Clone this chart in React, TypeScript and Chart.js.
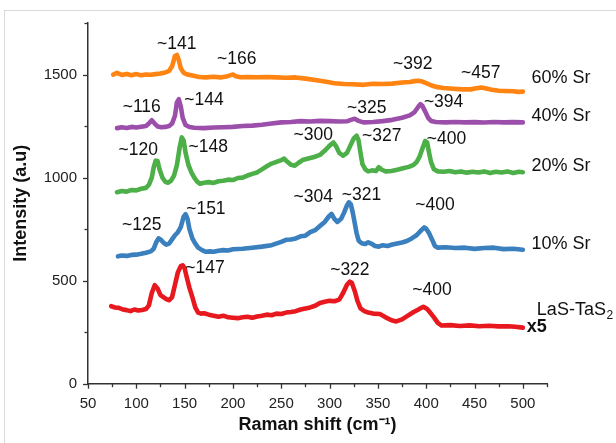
import React, { useEffect, useRef } from "react";
import { Chart, registerables } from "chart.js";
Chart.register(...registerables);

// ---------- data ----------
const sr60X = [76, 80, 85, 90, 95, 100, 105, 110, 115, 120, 125, 130, 134, 137, 140, 142, 144, 146, 149, 153, 158, 165, 172, 180, 187, 193, 197, 200, 203, 208, 215, 225, 235, 245, 255, 265, 275, 285, 295, 305, 315, 325, 335, 345, 355, 365, 375, 383, 388, 392, 396, 400, 405, 410, 418, 428, 438, 446, 452, 457, 462, 468, 475, 482, 490, 496, 500];
const sr60Y = [1500, 1508, 1498, 1503, 1497, 1502, 1496, 1500, 1499, 1502, 1505, 1510, 1518, 1540, 1590, 1595, 1570, 1530, 1508, 1500, 1495, 1488, 1486, 1489, 1486, 1490, 1496, 1500, 1492, 1487, 1488, 1487, 1488, 1486, 1484, 1486, 1480, 1473, 1466, 1458, 1454, 1453, 1450, 1455, 1454, 1456, 1461, 1464, 1468, 1470, 1466, 1458, 1448, 1440, 1435, 1431, 1428, 1428, 1433, 1437, 1432, 1426, 1421, 1420, 1419, 1416, 1417];

const sr40X = [80, 85, 90, 95, 100, 105, 110, 113, 116, 119, 122, 126, 130, 134, 137, 140, 142, 144, 146, 148, 151, 155, 160, 170, 180, 190, 200, 210, 220, 230, 240, 250, 260, 270, 280, 290, 300, 310, 318, 322, 326, 330, 335, 345, 355, 365, 375, 383, 388, 392, 394, 396, 399, 402, 405, 410, 420, 430, 440, 450, 460, 470, 480, 490, 500];
const sr40Y = [1240, 1244, 1241, 1246, 1243, 1247, 1250, 1262, 1278, 1262, 1248, 1244, 1246, 1250, 1262, 1300, 1365, 1380, 1345, 1290, 1255, 1245, 1242, 1240, 1243, 1244, 1246, 1250, 1252, 1256, 1262, 1268, 1270, 1274, 1272, 1275, 1274, 1272, 1273, 1280, 1285, 1275, 1268, 1270, 1274, 1280, 1290, 1302, 1318, 1345, 1356, 1348, 1320, 1290, 1275, 1270, 1268, 1270, 1268, 1269, 1267, 1270, 1268, 1269, 1268];

const sr20X = [80, 85, 90, 95, 100, 105, 110, 113, 116, 118, 120, 122, 124, 127, 130, 133, 136, 139, 142, 145, 147, 149, 151, 154, 157, 160, 163, 166, 170, 175, 180, 185, 190, 195, 200, 205, 210, 215, 220, 225, 230, 235, 240, 245, 250, 253, 256, 260, 264, 268, 272, 276, 284, 290, 296, 300, 304, 307, 310, 314, 318, 322, 325, 328, 330, 332, 334, 337, 340, 344, 348, 351, 354, 358, 364, 370, 376, 382, 387, 390, 393, 396, 399, 401, 403, 405, 408, 412, 418, 424, 430, 436, 442, 448, 454, 460, 466, 472, 478, 484, 490, 496, 500];
const sr20Y = [929, 935, 932, 940, 938, 946, 950, 965, 1000, 1050, 1082, 1080, 1040, 1000, 980, 975, 985, 1010, 1060, 1150, 1195, 1180, 1120, 1060, 1025, 1000, 980, 970, 975, 978, 974, 982, 985, 990, 988, 998, 1000, 1010, 1018, 1025, 1040, 1055, 1068, 1076, 1085, 1092, 1078, 1062, 1058, 1072, 1085, 1090, 1100, 1110, 1135, 1155, 1170, 1150, 1120, 1106, 1120, 1160, 1190, 1203, 1180, 1120, 1065, 1040, 1030, 1035, 1032, 1050, 1038, 1030, 1032, 1038, 1045, 1052, 1062, 1075, 1100, 1140, 1178, 1170, 1120, 1075, 1040, 1030, 1028, 1032, 1026, 1030, 1024, 1028, 1025, 1030, 1022, 1028, 1025, 1030, 1022, 1028, 1026];

const sr10X = [81, 85, 90, 95, 100, 105, 110, 115, 118, 121, 123, 125, 128, 131, 134, 137, 140, 143, 146, 149, 151, 153, 155, 158, 161, 164, 168, 172, 176, 180, 185, 190, 195, 200, 210, 220, 230, 240, 250, 255, 260, 265, 270, 275, 280, 285, 290, 295, 299, 302, 305, 308, 312, 315, 318, 320, 322, 324, 326, 328, 330, 333, 337, 340, 343, 347, 351, 355, 360, 365, 370, 375, 380, 385, 390, 395, 398, 400, 403, 406, 409, 412, 420, 430, 440, 450, 460, 470, 480, 490, 500];
const sr10Y = [618, 622, 620, 625, 626, 630, 635, 642, 655, 690, 705, 700, 685, 675, 680, 700, 720, 735, 760, 810, 822, 800, 750, 705, 680, 660, 648, 640, 642, 640, 645, 648, 646, 652, 655, 660, 665, 672, 688, 698, 700, 705, 715, 718, 735, 745, 765, 785, 810, 824, 800, 785, 800, 830, 865, 880, 870, 830, 780, 730, 695, 682, 678, 686, 680, 668, 665, 672, 668, 675, 680, 685, 692, 705, 720, 745, 758, 752, 730, 700, 668, 660, 662, 658, 660, 654, 658, 660, 653, 655, 650];

const lasX = [74, 78, 82, 86, 90, 94, 98, 102, 106, 110, 113, 116, 119, 122, 125, 128, 131, 134, 137, 140, 143, 146, 148, 150, 152, 155, 158, 161, 164, 167, 170, 175, 180, 185, 190, 195, 200, 205, 210, 215, 220, 225, 230, 235, 240, 245, 250, 255, 260, 265, 270, 275, 280, 285, 290, 295, 300, 305, 310, 314, 318, 321, 323, 326, 329, 332, 336, 340, 345, 352, 358, 364, 369, 375, 381, 387, 391, 394, 397, 401, 404, 408, 412, 416, 425, 435, 445, 455, 465, 475, 485, 492, 500];
const lasY = [376, 370, 368, 360, 357, 352, 360, 355, 358, 362, 380, 440, 478, 462, 430, 420, 410, 405, 420, 480, 540, 570, 574, 560, 520, 465, 420, 370, 345, 340, 342, 335, 330, 325, 330, 322, 320, 318, 322, 325, 320, 326, 330, 335, 332, 340, 338, 345, 348, 352, 360, 365, 370, 378, 392, 398, 402, 400, 408, 440, 480, 495, 490, 450, 400, 365, 352, 345, 340, 338, 322, 308, 302, 312, 330, 348, 358, 366, 373, 362, 345, 322, 295, 282, 284, 280, 283, 279, 281, 278, 279, 276, 272];

const seriesNames = ["60% Sr", "40% Sr", "20% Sr", "10% Sr", "LaS-TaS2"];
const seriesColors = ["#ff8412", "#9b4fab", "#4caf48", "#3a7fbe", "#e8191e"];
const seriesXs = [sr60X, sr40X, sr20X, sr10X, lasX];
const seriesYs = [sr60Y, sr40Y, sr20Y, sr10Y, lasY];
const seriesLabelX = [509, 509, 509, 509, 514.5];
const seriesLabelY = [1485, 1300, 1058, 679, 357];
const scaleNoteText = "x5";
const scaleNoteX = 504;
const scaleNoteY = 276;

const peakLabels = ["~141", "~166", "~392", "~457", "~116", "~144", "~325", "~394", "~120", "~148", "~300", "~327", "~400", "~125", "~151", "~304", "~321", "~400", "~147", "~322", "~400"];
const peakLabelX = [141.8, 204, 386, 456.5, 105.6, 170, 338.5, 418, 102, 174.5, 283, 354, 421, 105.6, 172, 283, 333, 409, 171, 321, 406];
const peakLabelY = [1647, 1574, 1550, 1505, 1343, 1376, 1335, 1364, 1131, 1147, 1208, 1203, 1187, 768, 849, 903, 913, 865, 560, 550, 454];

const xMin = 50, xMax = 525, xStep = 25, xLabelStep = 50, xLabelMax = 500;
const yMin = 0, yMax = 1750, yStep = 250, yLabelStep = 500;

const FONT = "'Liberation Sans', Arial, sans-serif";

const decorPlugin = {
  id: "decor",
  afterDraw(chart: any) {
    const ctx = chart.ctx;
    const xs = chart.scales.x;
    const ys = chart.scales.y;
    ctx.save();
    ctx.strokeStyle = "#333";
    ctx.lineWidth = 1.3;
    for (const t of xs.ticks) {
      const px = Math.round(xs.getPixelForValue(t.value)) + 0.5;
      const major = t.value % xLabelStep === 0;
      ctx.beginPath();
      ctx.moveTo(px, xs.top);
      ctx.lineTo(px, xs.top + (major ? 5 : 3.5));
      ctx.stroke();
    }
    for (const t of ys.ticks) {
      const py = Math.round(ys.getPixelForValue(t.value)) + 0.5;
      const major = t.value % yLabelStep === 0;
      ctx.beginPath();
      ctx.moveTo(ys.right, py);
      ctx.lineTo(ys.right - (major ? 5 : 3.5), py);
      ctx.stroke();
    }
    ctx.fillStyle = "#111";
    ctx.font = `17.5px ${FONT}`;
    ctx.textAlign = "center";
    ctx.textBaseline = "middle";
    peakLabels.forEach((s, i) => {
      ctx.fillText(s, xs.getPixelForValue(peakLabelX[i]), ys.getPixelForValue(peakLabelY[i]));
    });
    ctx.textAlign = "left";
    seriesNames.forEach((s, i) => {
      const px = xs.getPixelForValue(seriesLabelX[i]);
      const py = ys.getPixelForValue(seriesLabelY[i]);
      ctx.font = `18px ${FONT}`;
      if (s.endsWith("2") && s.startsWith("LaS")) {
        const main = s.slice(0, -1);
        ctx.fillText(main, px, py);
        const w = ctx.measureText(main).width;
        ctx.font = `12px ${FONT}`;
        ctx.fillText("2", px + w + 0.5, py + 6);
      } else {
        ctx.fillText(s, px, py);
      }
    });
    ctx.font = `bold 18px ${FONT}`;
    ctx.fillText(scaleNoteText, xs.getPixelForValue(scaleNoteX), ys.getPixelForValue(scaleNoteY));
    ctx.restore();
  },
};

export default function App() {
  const ref = useRef<HTMLCanvasElement>(null);
  useEffect(() => {
    const canvas = ref.current!;
    const chart = new Chart(canvas, {
      type: "line",
      data: {
        datasets: seriesNames.map((name, i) => ({
          label: name,
          data: seriesXs[i].map((x, j) => ({ x, y: seriesYs[i][j] })),
          borderColor: seriesColors[i],
          backgroundColor: seriesColors[i],
          borderWidth: 4.6,
          pointRadius: 0,
          tension: 0,
          borderJoinStyle: "round" as const,
          borderCapStyle: "round" as const,
        })),
      },
      options: {
        animation: false,
        responsive: false,
        devicePixelRatio: 1,
        events: [],
        layout: { padding: { top: 23, right: 69, left: 0, bottom: 0 } },
        plugins: { legend: { display: false }, tooltip: { enabled: false } },
        scales: {
          x: {
            type: "linear",
            min: xMin,
            max: xMax,
            afterFit: (s: any) => { s.height = 59.3; },
            grid: { display: false, drawTicks: false },
            border: { display: true, color: "#333", width: 1.5 },
            ticks: {
              stepSize: xStep,
              autoSkip: false,
              maxRotation: 0,
              padding: 11,
              color: "#222",
              font: { family: FONT, size: 15 },
              callback: (v: any) => (v % xLabelStep === 0 && v <= xLabelMax ? String(v) : ""),
            },
            title: {
              display: true,
              text: "Raman shift (cm⁻¹)",
              color: "#111",
              font: { family: FONT, size: 18, weight: "bold" },
              padding: { top: 0, bottom: 7 },
            },
          },
          y: {
            type: "linear",
            min: yMin,
            max: yMax,
            afterFit: (s: any) => { s.width = 88; },
            grid: { display: false, drawTicks: false },
            border: { display: true, color: "#333", width: 1.5 },
            ticks: {
              stepSize: yStep,
              autoSkip: false,
              padding: 11,
              color: "#222",
              font: { family: FONT, size: 15 },
              callback: (v: any) => (v % yLabelStep === 0 ? String(v) : ""),
            },
            title: {
              display: true,
              text: "Intensity (a.u)",
              color: "#111",
              font: { family: FONT, size: 18, weight: "bold" },
              padding: { top: 10, bottom: 0 },
            },
          },
        },
      },
      plugins: [decorPlugin],
    });
    return () => chart.destroy();
  }, []);
  return (
    <div style={{ position: "fixed", left: 0, top: 0, width: 616, height: 443, background: "#fff", overflow: "hidden" }}>
      <div style={{ position: "absolute", left: 4, top: 10, width: 700, height: 600, border: "1px solid #d9d9d9" }} />
      <canvas ref={ref} width={616} height={443} style={{ position: "absolute", left: 0, top: 0, width: 616, height: 443 }} />
    </div>
  );
}
